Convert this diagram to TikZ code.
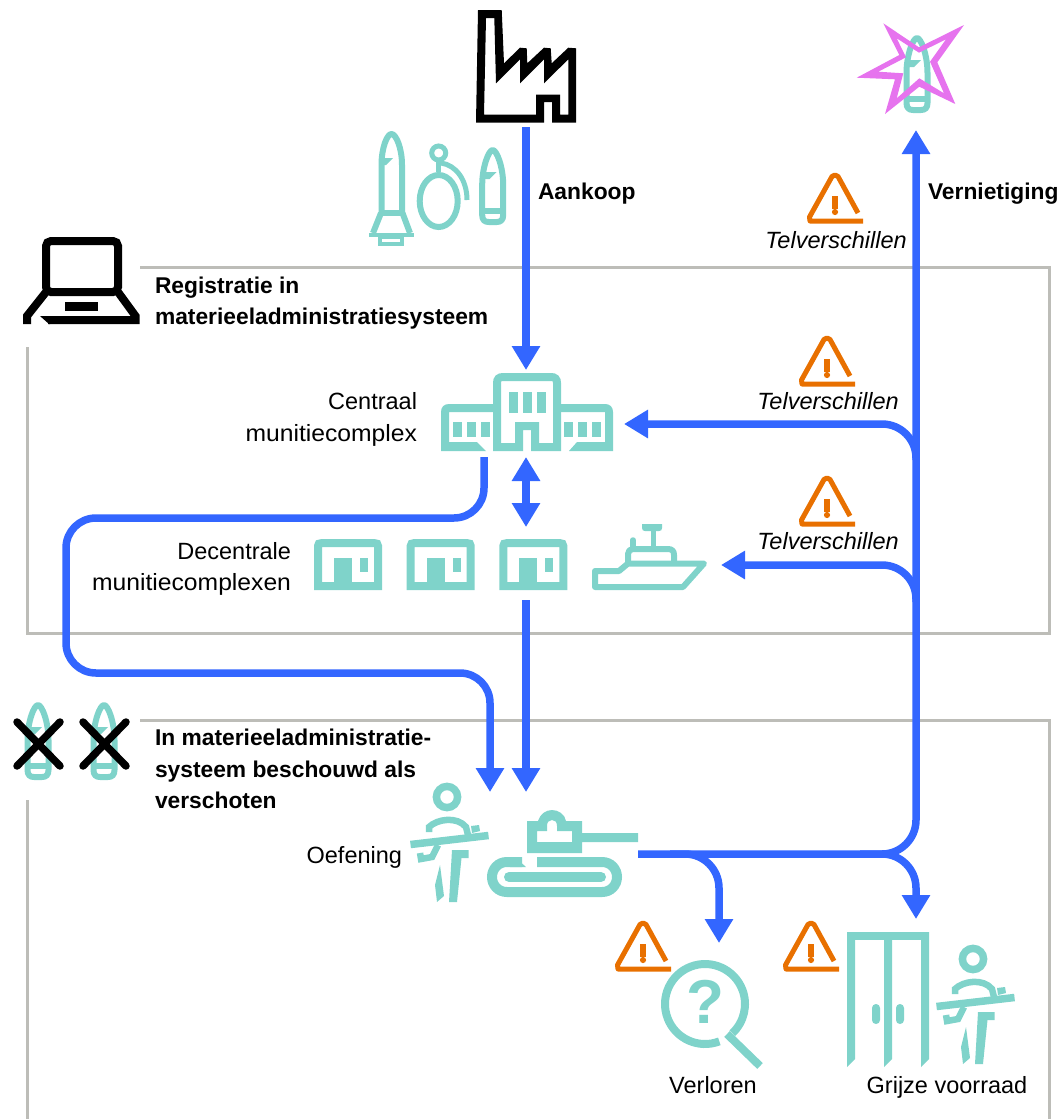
\documentclass[tikz,border=0pt]{standalone}
\usepackage{fontspec}
\setmainfont{Liberation Sans}
\usetikzlibrary{arrows.meta}
\definecolor{teal}{HTML}{7FD3CA}
\definecolor{flowblue}{HTML}{3366FF}
\definecolor{warnorange}{HTML}{E87000}
\definecolor{pinkstar}{HTML}{E673EE}
\definecolor{framegray}{HTML}{BDBDB8}
\tikzset{
  x=1pt,y=-1pt,
  every node/.style={inner sep=0pt,outer sep=0pt},
  flow/.style={draw=flowblue,line width=7.5pt,rounded corners=34pt,-{Triangle[length=24pt,width=27pt]}},
  flowboth/.style={draw=flowblue,line width=7.5pt,{Triangle[length=24pt,width=27pt]}-{Triangle[length=24pt,width=27pt]}},
  frame/.style={draw=framegray,line width=3pt},
  tealline/.style={draw=teal,line width=7.5pt,miter limit=10},
  tealthin/.style={draw=teal,line width=6pt,miter limit=10},
  blackline/.style={draw=black,line width=8pt,miter limit=10},
  lbl/.style={font=\fontsize{23.5}{23.5}\selectfont,text=black},
  lblbold/.style={font=\fontsize{22.8}{23}\selectfont\bfseries,text=black},
  lblit/.style={font=\fontsize{23.5}{23.5}\selectfont\itshape,text=black},
  shellicon/.pic={
    \draw[tealthin,line join=round] (-10.5,62) -- (-10.5,38) .. controls (-10.5,20) and (-4,3) .. (0,3) .. controls (4,3) and (10.5,20) .. (10.5,38) -- (10.5,68) .. controls (10.5,73) and (8,75) .. (4,75) -- (-4,75) .. controls (-8,75) and (-10.5,73) .. (-10.5,68) -- cycle;
    \draw[tealthin] (-10,63.5) -- (10,63.5);
    \fill[teal] (-10,25) -- (4,25) -- (-3,32) -- (-10,32) -- cycle;
  },
  warnicon/.pic={
    \draw[draw=warnorange,line width=5pt,line join=round,line cap=butt] (23,41) -- (3,4.5) -- (0,3) -- (-3,4.5) -- (-25.5,45) -- (-25,49) -- (28,49);
    \fill[warnorange] (-2.6,24) rectangle (2.6,37);
    \fill[warnorange] (0,40) circle (3.1);
  },
  soldiericon/.pic={
    \draw[tealline] (0,0) circle (10.6);
    \draw[teal,line width=6.5pt] (-18,35) -- (-18,30) .. controls (-10,22) and (10,19) .. (19,30) -- (21,38);
    \fill[teal] (24,29) -- (32,28) -- (33,34) -- (25,36) -- cycle;
    \draw[tealline] (-36.5,47.5) -- (41.5,38.5);
    \draw[teal,line width=6.5pt,miter limit=10] (-27,56) -- (-26,62) -- (-15,60) -- (-9,48);
    \fill[teal] (5,53) -- (21.5,53) -- (21.5,61) -- (14.5,61) -- (10,105) -- (2,105) -- cycle;
    \fill[teal] (-7,68) -- (-3,99) -- (-10,105) -- (-12,88) -- cycle;
  },
  depoticon/.pic={
    \draw[tealline,line width=8pt] (4,47) -- (4,7) .. controls (4,5) and (5,4) .. (8,4) -- (60,4) .. controls (63,4) and (64,5) .. (64,7) -- (64,47) -- cycle;
    \fill[teal] (20,19) rectangle (38,47);
    \fill[teal] (46,19) rectangle (54,33);
  }
}
\begin{document}
\begin{tikzpicture}
\useasboundingbox (0,0) rectangle (1062,1119);
% frames
\coordinate (frameAstart) at (140,267);
\coordinate (frameAne) at (1049,267);
\coordinate (frameAse) at (1049,633);
\coordinate (frameAsw) at (27,633);
\coordinate (frameAend) at (27,347);
\draw[frame] (frameAstart) -- (frameAne) -- (frameAse) -- (frameAsw) -- (frameAend);
\coordinate (frameBstart) at (140,720);
\coordinate (frameBne) at (1049,720);
\coordinate (frameBrightEnd) at (1049,1119);
\coordinate (frameBleftTop) at (27,800);
\coordinate (frameBleftEnd) at (27,1119);
\draw[frame] (frameBstart) -- (frameBne) -- (frameBrightEnd);
\draw[frame] (frameBleftTop) -- (frameBleftEnd);

% factory
\fill[black,even odd rule] (478,10) -- (501.7,10) -- (504,63.3) -- (520,47.7) -- (526.7,48.3) -- (527.3,63.3) -- (544,47.7) -- (550.7,48.3) -- (551.7,63.3) -- (568.3,47.7) -- (576,48.3) -- (576,122.7) -- (552,122.7) -- (552,102) -- (544,102) -- (544,122.7) -- (476,122.7) -- cycle
 (486,18) -- (494.3,18) -- (496,83.3) -- (520,59.3) -- (520,83.3) -- (544,59.3) -- (544,83.3) -- (568.3,59.3) -- (568.3,114.7) -- (560,114.7) -- (560,94.7) -- (536,94.7) -- (536,114.7) -- (484,114.7) -- cycle;

% rocket
\draw[tealthin,line join=round] (381.5,213) -- (381.5,165) .. controls (381.5,148) and (387,134) .. (391.5,134) .. controls (396,134) and (402,148) .. (402,165) -- (402,213);
\draw[tealthin] (381,213) -- (402,213);
\draw[tealthin] (381,213) -- (373,233);
\draw[tealthin] (402.5,213) -- (410,233);
\fill[teal] (369,233) -- (414,233) -- (414,237) -- (369,237) -- cycle;
\draw[teal,line width=3.5pt] (380,237) rectangle (402,244);
\fill[teal] (381,158) -- (393,158) -- (386,165) -- (381,165) -- cycle;
% grenade
\draw[teal,line width=5pt] (438.7,153) circle (7);
\draw[tealthin] (438.7,201) ellipse (19 and 26);
\draw[teal,line width=5pt] (438.7,160) -- (438.7,172);
\draw[teal,line width=5pt] (441,163) .. controls (456,165) and (467,180) .. (467,200);
% shells
\pic at (492.7,147) {shellicon};
\pic at (917,35) {shellicon};
\pic at (38,702) {shellicon};
\pic at (104,702) {shellicon};
% star
\fill[pinkstar,even odd rule] (883.3,23.3) -- (919,47.3) -- (964,25) -- (937.3,62.3) -- (955.3,104) -- (919.3,86.7) -- (885,114) -- (895,79.3) -- (856.7,77.7) -- (899.3,55) -- cycle
 (896.7,38.3) -- (919,52.7) -- (946,39.3) -- (930,61.7) -- (944,93.3) -- (919.3,78.3) -- (896.7,98.3) -- (903.3,73.3) -- (878.3,71.7) -- (906,57.3) -- cycle;
% crosses
\draw[black,line width=7.5pt,line cap=round] (17,722) -- (60,766);
\draw[black,line width=7.5pt,line cap=round] (60,722) -- (17,766);
\draw[black,line width=7.5pt,line cap=round] (83,722) -- (126,766);
\draw[black,line width=7.5pt,line cap=round] (126,722) -- (83,766);
% laptop
\draw[blackline,rounded corners=5pt] (46,292) -- (46,241) -- (118,241) -- (118,292) -- cycle;
\draw[blackline] (46,292) -- (27,316) -- (27,324);
\draw[blackline] (118,292) -- (135.5,316) -- (135.5,320) -- (48,320);
\fill[black] (40,316) -- (50,316) -- (50,324) -- (49,324) -- cycle;
\fill[black] (65,302) rectangle (98,311);
% central building
\draw[tealline,line width=8pt,line join=miter] (519,447) -- (519,426) -- (535,426) -- (535,447) -- (557,447) -- (557,383) .. controls (557,379) and (555,377) .. (551,377) -- (503,377) .. controls (499,377) and (497,379) .. (497,383) -- (497,447) -- cycle;
\foreach \wx in {509,523,537}{\fill[teal] (\wx,392) rectangle +(9,21);}
\foreach \wx in {453,467,481,564,578,592}{\fill[teal] (\wx,422) rectangle +(9,15);}
\fill[teal] (441,451) -- (441,412) .. controls (441,407) and (444,404) .. (449,404) -- (497,404) -- (497,412) -- (449,412) -- (449,442) -- (477,442) -- (486,451) -- cycle;
\fill[teal] (613,451) -- (613,412) .. controls (613,407) and (610,404) .. (605,404) -- (557,404) -- (557,412) -- (605,412) -- (605,442) -- (577,442) -- (569,451) -- cycle;
% depots
\pic at (314,539) {depoticon};
\pic at (406.7,539) {depoticon};
\pic at (499.3,539) {depoticon};
% ship
\draw[tealthin,line join=round] (595,571) -- (619,571) -- (628,563.5) -- (704,563.5) -- (683,587) -- (595,587) -- cycle;
\draw[tealthin,line join=round] (628,562) -- (628,554) .. controls (628,551) and (630,549) .. (633,549) -- (668,549) .. controls (672,549) and (674,551) .. (674,555) -- (674,562);
\draw[tealthin,line width=5.5pt] (653.5,530) -- (653.5,548);
\fill[teal] (642,524) -- (662,524) -- (662,528) .. controls (662,530) and (661,531) .. (659,531) -- (645,531) .. controls (643,531) and (642,530) .. (642,528) -- cycle;
\draw[tealthin,line width=5.5pt,line cap=round] (633,540) -- (633,549);
% soldier 1 & 2
\pic at (447,797) {soldiericon};
\pic at (973,959) {soldiericon};
% tank
\fill[teal,even odd rule] (527,821) -- (538,821) .. controls (540,814) and (546,810) .. (552,810) .. controls (558,810) and (565,814) .. (566,821) -- (582,821) -- (582,833) -- (638,833) -- (638,842) -- (582,842) -- (582,853) -- (527,853) -- cycle
 (537,831) -- (547,831) -- (547,826) .. controls (547,822) and (549,820) .. (552,820) .. controls (555,820) and (557,822) .. (557,826) -- (557,831) -- (572,831) -- (572,842) -- (537,842) -- cycle;
\draw[teal,line width=10pt] (522,862) -- (507,862) .. controls (498,862) and (492,869) .. (492,877) .. controls (492,885) and (498,892) .. (507,892) -- (602,892) .. controls (611,892) and (617,885) .. (617,877) .. controls (617,869) and (611,862) .. (602,862) -- (537,862);
\fill[teal] (515,857) -- (526,867) -- (510,867) -- (510,857) -- cycle;
\draw[teal,line width=10pt,line cap=round] (509,877) -- (601,877);
% warnings
\pic at (835,172) {warnicon};
\pic at (827,335) {warnicon};
\pic at (827,475) {warnicon};
\pic at (643,920) {warnicon};
\pic at (811,920) {warnicon};
% magnifier
\draw[draw=teal,line width=8pt] (705,1004) ++(69:40) arc[start angle=69,end angle=407,radius=40];
\draw[draw=teal,line width=8pt] (727,1034) -- (760,1066);
\node[font=\fontsize{62}{62}\selectfont\bfseries,text=teal] (qmark) at (705,1002) {?};
% doors
\foreach \dx in {847,884,921}{\fill[teal] (\dx,932) -- (\dx+8,932) -- (\dx+8,1059) -- (\dx,1067) -- cycle;}
\fill[teal] (847,932) rectangle (929,940);
\fill[teal,rounded corners=3.9pt] (872,1004) rectangle (880,1024);
\fill[teal,rounded corners=3.9pt] (896,1004) rectangle (904,1024);

% connector anchors
\coordinate (factoryout) at (526,127);
\coordinate (centralin) at (526,370);
\coordinate (tankout) at (638,854);
\coordinate (destroyin) at (916,130);
\coordinate (returnC) at (916,460);
\coordinate (centralright) at (624,424);
\coordinate (returnD) at (916,602);
\coordinate (shipright) at (721,565);
\coordinate (lossstart) at (670,854);
\coordinate (lossin) at (719,943);
\coordinate (greystart) at (860,854);
\coordinate (greyin) at (916,919);
\coordinate (centraldown) at (484,457);
\coordinate (exleft) at (66,518);
\coordinate (exbottom) at (66,673);
\coordinate (ex1in) at (490,792);
\coordinate (depotdown) at (526,600);
\coordinate (ex2in) at (526,792);
\coordinate (linkT) at (526,457);
\coordinate (linkB) at (526,527);
% connectors
\draw[flow] (factoryout) -- (centralin);
\draw[flow] (tankout) -| (destroyin);
\draw[flow] (returnC) |- (centralright);
\draw[flow] (returnD) |- (shipright);
\draw[flow] (lossstart) -| (lossin);
\draw[flow] (greystart) -| (greyin);
\draw[flow,rounded corners=30pt] (centraldown) |- (exleft) -- (exbottom) -| (ex1in);
\draw[flow] (depotdown) -- (ex2in);
\draw[flowboth] (linkT) -- (linkB);

% labels
\node[lblbold,anchor=base west] (aankoop) at (538,199) {Aankoop};
\node[lblbold,anchor=base west] (vern) at (928,199) {Vernietiging};
\node[lblit,anchor=base] (tel1) at (836,248) {Telverschillen};
\node[lblit,anchor=base] (tel2) at (828,409) {Telverschillen};
\node[lblit,anchor=base] (tel3) at (828,549) {Telverschillen};
\node[lblbold,anchor=base west] (reg1) at (155,293) {Registratie in};
\node[lblbold,anchor=base west] (reg2) at (155,324) {materieeladministratiesysteem};
\node[lbl,anchor=base east] (cm1) at (417,409) {Centraal};
\node[lbl,anchor=base east] (cm2) at (417,441) {\scalebox{1.05}[1]{munitiecomplex}};
\node[lbl,anchor=base east] (dm1) at (291,559) {Decentrale};
\node[lbl,anchor=base east] (dm2) at (291,590) {\scalebox{1.05}[1]{munitiecomplexen}};
\node[lblbold,anchor=base west] (in1) at (155,745) {In materieeladministratie-};
\node[lblbold,anchor=base west] (in2) at (155,777) {systeem beschouwd als};
\node[lblbold,anchor=base west] (in3) at (155,808) {verschoten};
\node[lbl,anchor=base east] (oef) at (402,863) {Oefening};
\node[lbl,anchor=base] (verl) at (713,1093) {Verloren};
\node[lbl,anchor=base] (grijs) at (947,1093) {Grijze voorraad};
\end{tikzpicture}
\end{document}
